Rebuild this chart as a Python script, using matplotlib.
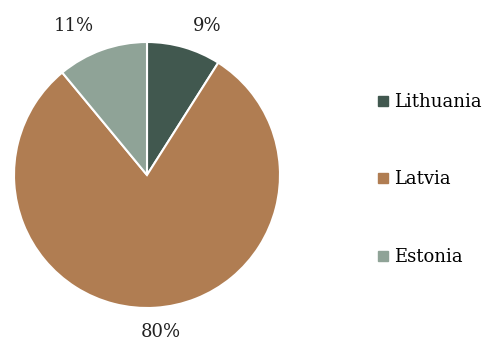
import numpy as np
import matplotlib
matplotlib.use("Agg")
import matplotlib.pyplot as plt
from matplotlib.lines import Line2D

plt.rcParams["font.family"] = ["DejaVu Serif"]

countries = ["Lithuania", "Latvia", "Estonia"]
shares = [9, 80, 11]
colors = ["#41584f", "#b07d52", "#8fa397"]

W, H = 488, 343
fig = plt.figure(figsize=(W / 100, H / 100), dpi=100)
ax = fig.add_axes([14 / W, 35 / H, 266 / W, 266 / H])

wedges, _, pcts = ax.pie(shares, colors=colors, startangle=90, counterclock=False,
                         autopct="%d%%", pctdistance=1.2,
                         wedgeprops=dict(edgecolor="white", linewidth=1.5),
                         textprops=dict(fontsize=13, color="#222222"))
ax.set_xlim(-1, 1); ax.set_ylim(-1, 1)
ax.set_aspect("equal")

# spread labels sideways, keep them at a common height above/below the pie
for w, t in zip(wedges, pcts):
    th = np.deg2rad((w.theta1 + w.theta2) / 2)
    up = np.sin(th) > 0
    t.set_position((1.63 * np.cos(th), 1.12 if up else -1.18))
    t.set_ha("center"); t.set_va("center")

handles = [Line2D([], [], marker="s", ls="", color=c, markersize=7) for c in colors]
fig.legend(handles, countries, loc="center left", bbox_to_anchor=(360 / W, 0.5 - 8 / H),
           frameon=False, fontsize=13, labelspacing=3.3, handlelength=0.8,
           handletextpad=0.2)

fig.savefig("out.png", dpi=100)
